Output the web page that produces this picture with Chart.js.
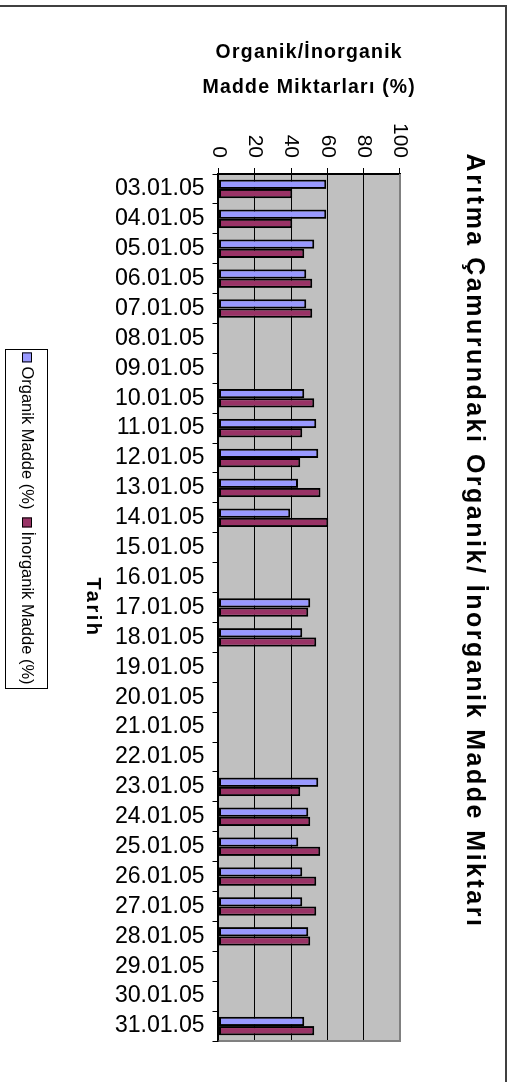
<!DOCTYPE html>
<html lang="tr">
<head>
<meta charset="utf-8">
<title>Arıtma Çamurundaki Organik/ İnorganik Madde Miktarı</title>
<script src="https://cdn.jsdelivr.net/npm/chart.js@4.4.0/dist/chart.umd.min.js"></script>
<style>
  html, body { margin: 0; padding: 0; background: #fff; overflow: hidden; }
  /* the chart is drawn upright (1082 x 513) and turned 90deg clockwise, like the original sheet */
  #kap {
    position: absolute; left: 0; top: 0;
    width: 1082px; height: 513px;
    transform-origin: 0 0;
    transform: translateX(513px) rotate(90deg);
  }
  #grafik { display: block; }
</style>
</head>
<body>
<div id="kap"><canvas id="grafik" width="1082" height="513"></canvas></div>
<script>
// Tarihler (kategori ekseni)
const tarihler = ['03.01.05', '04.01.05', '05.01.05', '06.01.05', '07.01.05', '08.01.05', '09.01.05',
    '10.01.05', '11.01.05', '12.01.05', '13.01.05', '14.01.05', '15.01.05', '16.01.05', '17.01.05',
    '18.01.05', '19.01.05', '20.01.05', '21.01.05', '22.01.05', '23.01.05', '24.01.05', '25.01.05',
    '26.01.05', '27.01.05', '28.01.05', '29.01.05', '30.01.05', '31.01.05'];

// Organik madde (%) - null = o gün ölçüm yok
const organik = [59.3, 59.3, 52.8, 48.4, 48.3, null, null, 47.2, 53.9, 55.0, 43.8, 39.5, null, null,
    50.5, 46.2, null, null, null, null, 55.0, 49.4, 43.9, 46.2, 46.2, 49.4, null, null, 47.2];

// İnorganik madde (%)
const inorganik = [40.7, 40.7, 47.2, 51.6, 51.7, null, null, 52.8, 46.1, 45.0, 56.2, 60.5, null, null,
    49.5, 53.8, null, null, null, null, 45.0, 50.6, 56.1, 53.8, 53.8, 50.6, null, null, 52.8];

// Değer ekseni etiketleri
const degerTikleri = [0, 20, 40, 60, 80, 100];

const yazi = 'Liberation Sans, Arial, sans-serif';
Chart.defaults.font.family = yazi;
Chart.defaults.color = '#000';

// Lejant kutusu (dik çizimdeki konumu)
const lejant = { sol: 349, ust: 465, gen: 339, yuk: 42, boyut: 16.5 };

const cizimEkleri = {
    id: 'cizimEkleri',
    beforeDraw(chart) {
        const { ctx, chartArea: a } = chart;
        ctx.save();
        ctx.fillStyle = '#fff';
        ctx.fillRect(0, 0, chart.width, chart.height);
        ctx.fillStyle = '#c0c0c0'; // gri çizim alanı
        ctx.fillRect(a.left, a.top, a.right - a.left, a.bottom - a.top);
        ctx.restore();
    },
    beforeDatasetsDraw(chart) {
        // çizim alanının gri kenarı (üst ve sağ)
        const { ctx, chartArea: a } = chart;
        ctx.save();
        ctx.strokeStyle = '#808080';
        ctx.lineWidth = 2;
        ctx.beginPath();
        ctx.moveTo(a.left, a.top);
        ctx.lineTo(a.right, a.top);
        ctx.lineTo(a.right, a.bottom);
        ctx.stroke();
        ctx.restore();
    },
    afterDraw(chart) {
        const ctx = chart.ctx;
        ctx.save();
        // grafik alanının kenar çizgileri
        ctx.strokeStyle = '#404040';
        ctx.lineWidth = 2;
        ctx.beginPath();
        ctx.moveTo(6, chart.height);
        ctx.lineTo(6, 7);
        ctx.lineTo(chart.width, 7);
        ctx.stroke();

        // lejant
        ctx.fillStyle = '#fff';
        ctx.fillRect(lejant.sol, lejant.ust, lejant.gen, lejant.yuk);
        ctx.strokeStyle = '#000';
        ctx.lineWidth = 1;
        ctx.strokeRect(lejant.sol + 0.5, lejant.ust + 0.5, lejant.gen, lejant.yuk);
        ctx.font = lejant.boyut + 'px ' + yazi;
        ctx.textBaseline = 'middle';
        const kare = 10, bosluk = 4, ara = 8;
        const setler = chart.data.datasets;
        const genislikler = setler.map(d => ctx.measureText(d.label).width);
        let toplam = 0;
        genislikler.forEach(g => { toplam += kare + bosluk + g; });
        toplam += ara * (setler.length - 1);
        let x = lejant.sol + (lejant.gen - toplam) / 2;
        const orta = lejant.ust + lejant.yuk / 2;
        setler.forEach((d, i) => {
            ctx.fillStyle = d.backgroundColor;
            ctx.fillRect(x, orta - kare / 2, kare, kare);
            ctx.strokeRect(x + 0.5, orta - kare / 2 + 0.5, kare - 1, kare - 1);
            x += kare + bosluk;
            ctx.fillStyle = '#000';
            ctx.fillText(d.label, x, orta);
            x += genislikler[i] + ara;
        });
        ctx.restore();
    }
};

const grafik = new Chart(document.getElementById('grafik'), {
    type: 'bar',
    data: {
        labels: tarihler,
        datasets: [
            {
                label: 'Organik Madde (%)',
                data: organik,
                backgroundColor: '#9999ff',
                borderColor: '#000',
                borderWidth: 2,
                borderSkipped: false
            },
            {
                label: 'İnorganik Madde (%)',
                data: inorganik,
                backgroundColor: '#993366',
                borderColor: '#000',
                borderWidth: 2,
                borderSkipped: false
            }
        ]
    },
    options: {
        responsive: false,
        animation: false,
        devicePixelRatio: 1,
        layout: { padding: { left: 0, right: 41, top: 0, bottom: 78.5 } },
        datasets: { bar: { barPercentage: 1, categoryPercentage: 0.62 } },
        plugins: {
            legend: { display: false },
            tooltip: { enabled: false },
            title: {
                display: true,
                text: 'Arıtma Çamurundaki Organik/ İnorganik Madde Miktarı',
                color: '#000',
                font: { size: 25, weight: 'bold' },
                padding: { top: 24, bottom: 59 }
            }
        },
        scales: {
            x: {
                grid: { offset: true, drawOnChartArea: false, tickLength: 6, color: '#000' },
                border: { color: '#000', width: 2 },
                ticks: { minRotation: 90, maxRotation: 90, autoSkip: false, padding: 8, font: { size: 23 } },
                title: { display: true, text: 'Tarih', font: { size: 20, weight: 'bold' }, padding: { top: 0, bottom: 2.5 } },
                afterFit(s) { s.height = 140; }
            },
            y: {
                min: 0,
                max: 100,
                afterBuildTicks(s) { s.ticks = degerTikleri.map(v => ({ value: v })); },
                grid: { color: '#000', lineWidth: 1, tickLength: 6 },
                border: { color: '#000', width: 2 },
                ticks: { padding: 10, font: { size: 21 } },
                title: {
                    display: true,
                    text: ['Organik/İnorganik', 'Madde Miktarları (%)'],
                    font: { size: 19.5, weight: 'bold', lineHeight: 1.75 },
                    padding: { top: 36 }
                },
                afterFit(s) { s.width = 174; }
            }
        }
    },
    plugins: [cizimEkleri]
});

// Excel'deki gibi geniş harf aralığı için metin çizimlerini sarmala
function aralikli(nesne, metod, aralik, kaydir) {
    const asil = nesne[metod];
    nesne[metod] = function () {
        const ctx = this.ctx;
        ctx.save();
        ctx.letterSpacing = aralik;
        if (kaydir) ctx.translate(kaydir(this), 0);
        asil.apply(this, arguments);
        ctx.restore();
    };
}
aralikli(grafik.titleBlock, 'draw', '2.5px', b => grafik.width / 2 - (b.left + b.right) / 2);
aralikli(grafik.scales.y, 'drawTitle', '1.2px');
aralikli(grafik.scales.x, 'drawTitle', '2.5px');
grafik.draw();
</script>
</body>
</html>
